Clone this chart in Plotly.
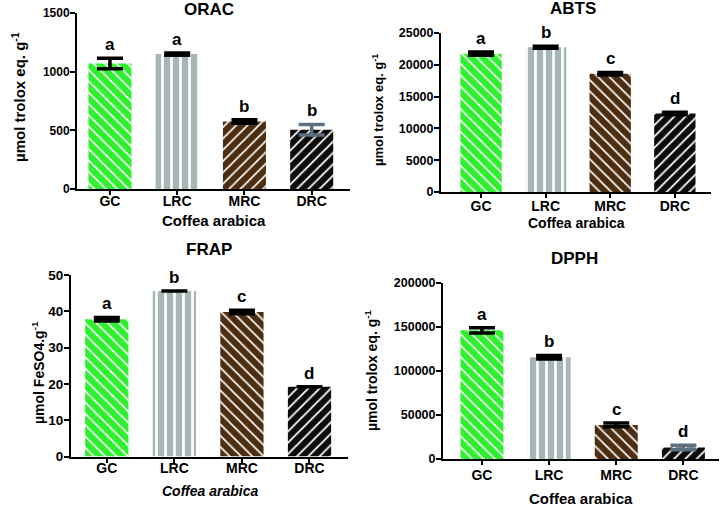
import plotly.graph_objects as go

W, H = 722, 508

categories = ["GC", "LRC", "MRC", "DRC"]

orac = [1070, 1150, 575, 505]
orac_err = [45, 10, 15, 45]
orac_letters = ["a", "a", "b", "b"]

abts = [21750, 22750, 18600, 12350]
abts_err = [250, 150, 200, 200]
abts_letters = ["a", "b", "c", "d"]

frap = [37.8, 45.6, 39.8, 19.2]
frap_err = [0.5, 0, 0.5, 0]
frap_letters = ["a", "b", "c", "d"]

dpph = [146000, 115500, 38700, 13000]
dpph_err = [3000, 2000, 2000, 2500]
dpph_letters = ["a", "b", "c", "d"]

bar_colors = ["#2ef02e", "#a6b6b6", "#4e2e12", "#0c0c0c"]

FONT = "Liberation Sans, Arial, sans-serif"


def px_x(p):
    return p / W


def px_y(p):
    return 1 - p / H


panels = [
    dict(name="ORAC", vals=orac, err=orac_err, letters=orac_letters, ymax=1500, dtick=500,
         xpx=(77, 350), ypx=(13, 189), xr=[-0.49, 3.57], shapes=["\\", "|", "/", "/"],
         ytitle="µmol trolox eq. g<sup>-1</sup>", ytx=18, yty=97, ytsize=15, tsize=12,
         title_xy=(209, 10), xtitle="Coffea arabica", xtitle_y=220, italic=False, xtsize=15,
         standoff=-6, errcols=["black", "black", "black", "#5b6f80"]),
    dict(name="ABTS", vals=abts, err=abts_err, letters=abts_letters, ymax=25000, dtick=5000,
         xpx=(441, 711), ypx=(33, 192), xr=[-0.62, 3.56], shapes=["\\", "|", "\\", "/"],
         ytitle="µmol trolox eq. g<sup>-1</sup>", ytx=378, yty=110, ytsize=13, tsize=12.5,
         title_xy=(573, 9), xtitle="Coffea arabica", xtitle_y=223, italic=False, xtsize=14,
         standoff=-4, errcols=["black", "black", "black", "black"]),
    dict(name="FRAP", vals=frap, err=frap_err, letters=frap_letters, ymax=50, dtick=10,
         xpx=(71, 348), ypx=(275, 456.5), xr=[-0.53, 3.57], shapes=["\\", "|", "\\", "/"],
         ytitle="µmol FeSO4.g<sup>-1</sup>", ytx=38, yty=373, ytsize=14, tsize=13.5,
         title_xy=(209, 249), xtitle="Coffea arabica", xtitle_y=491, italic=True, xtsize=14,
         standoff=-6, errcols=["black", "black", "black", "black"]),
    dict(name="DPPH", vals=dpph, err=dpph_err, letters=dpph_letters, ymax=200000, dtick=50000,
         xpx=(443, 719), ypx=(282.7, 459), xr=[-0.58, 3.53], shapes=["\\", "|", "\\", "/"],
         ytitle="µmol trolox eq. g<sup>-1</sup>", ytx=371, yty=370, ytsize=14, tsize=12.5,
         title_xy=(574, 258), xtitle="Coffea arabica", xtitle_y=498, italic=False, xtsize=15,
         standoff=-2, errcols=["black", "black", "black", "#5b6f80"]),
]

pattern_size = [8, 9, 8, 8]
pattern_solidity = [0.2, 0.3, 0.2, 0.22]

fig = go.Figure()
annotations = []
layout = {}

for i, p in enumerate(panels):
    n = "" if i == 0 else str(i + 1)
    xa, ya = "x" + n, "y" + n
    for k, c in enumerate(categories):
        fig.add_trace(go.Bar(
            x=[c], y=[p["vals"][k]], xaxis=xa, yaxis=ya, width=0.64,
            marker=dict(color=bar_colors[k], line=dict(width=0),
                        pattern=dict(shape=p["shapes"][k], fgcolor="white",
                                     bgcolor=bar_colors[k], fgopacity=1,
                                     size=pattern_size[k], solidity=pattern_solidity[k],
                                     fillmode="overlay")),
            error_y=dict(type="data", array=[p["err"][k]], color=p["errcols"][k],
                         thickness=3.5, width=13, visible=True),
            showlegend=False, hoverinfo="skip"))
    layout["xaxis" + n] = dict(
        domain=[px_x(p["xpx"][0]), px_x(p["xpx"][1])], anchor=ya, range=p["xr"],
        type="category", categoryorder="array", categoryarray=categories,
        showline=True, linecolor="black", linewidth=2,
        ticks="outside", ticklen=4, tickwidth=2, tickcolor="black",
        ticklabelstandoff=p["standoff"],
        tickfont=dict(family=FONT, size=14, color="black", weight="bold"),
        showgrid=False, zeroline=False, fixedrange=True, automargin=False)
    layout["yaxis" + n] = dict(
        domain=[px_y(p["ypx"][1]), px_y(p["ypx"][0])], anchor=xa,
        range=[0, p["ymax"]], dtick=p["dtick"], tick0=0, tickformat="d",
        showline=True, linecolor="black", linewidth=2,
        ticks="outside", ticklen=5, tickwidth=2, tickcolor="black",
        ticklabelstandoff=-2,
        tickfont=dict(family=FONT, size=p["tsize"], color="black", weight="bold"),
        showgrid=False, zeroline=False, fixedrange=True, automargin=False)
    for k, c in enumerate(categories):
        annotations.append(dict(
            x=c, y=p["vals"][k] + p["err"][k], xref=xa, yref=ya,
            text=p["letters"][k], showarrow=False, yanchor="bottom", yshift=2,
            font=dict(family=FONT, size=17, color="black", weight="bold")))
    annotations.append(dict(
        x=px_x(p["title_xy"][0]), y=px_y(p["title_xy"][1]), xref="paper", yref="paper",
        text=p["name"], showarrow=False, xanchor="center", yanchor="middle",
        font=dict(family=FONT, size=17, color="black", weight="bold")))
    xt = "<i>" + p["xtitle"] + "</i>" if p["italic"] else p["xtitle"]
    annotations.append(dict(
        x=(px_x(p["xpx"][0]) + px_x(p["xpx"][1])) / 2, y=px_y(p["xtitle_y"]),
        xref="paper", yref="paper", text=xt, showarrow=False,
        xanchor="center", yanchor="middle",
        font=dict(family=FONT, size=p["xtsize"], color="black", weight="bold")))
    annotations.append(dict(
        x=px_x(p["ytx"]), y=px_y(p["yty"]), xref="paper", yref="paper",
        text=p["ytitle"], showarrow=False, textangle=-90,
        xanchor="center", yanchor="middle",
        font=dict(family=FONT, size=p["ytsize"], color="black", weight="bold")))

fig.update_layout(
    template="none", barmode="overlay",
    width=W, height=H, margin=dict(l=0, r=0, t=0, b=0, pad=0),
    paper_bgcolor="white", plot_bgcolor="white",
    annotations=annotations, **layout)

fig.write_html("out.html", config={"displayModeBar": False},
               post_script="document.body.style.margin='0';")
